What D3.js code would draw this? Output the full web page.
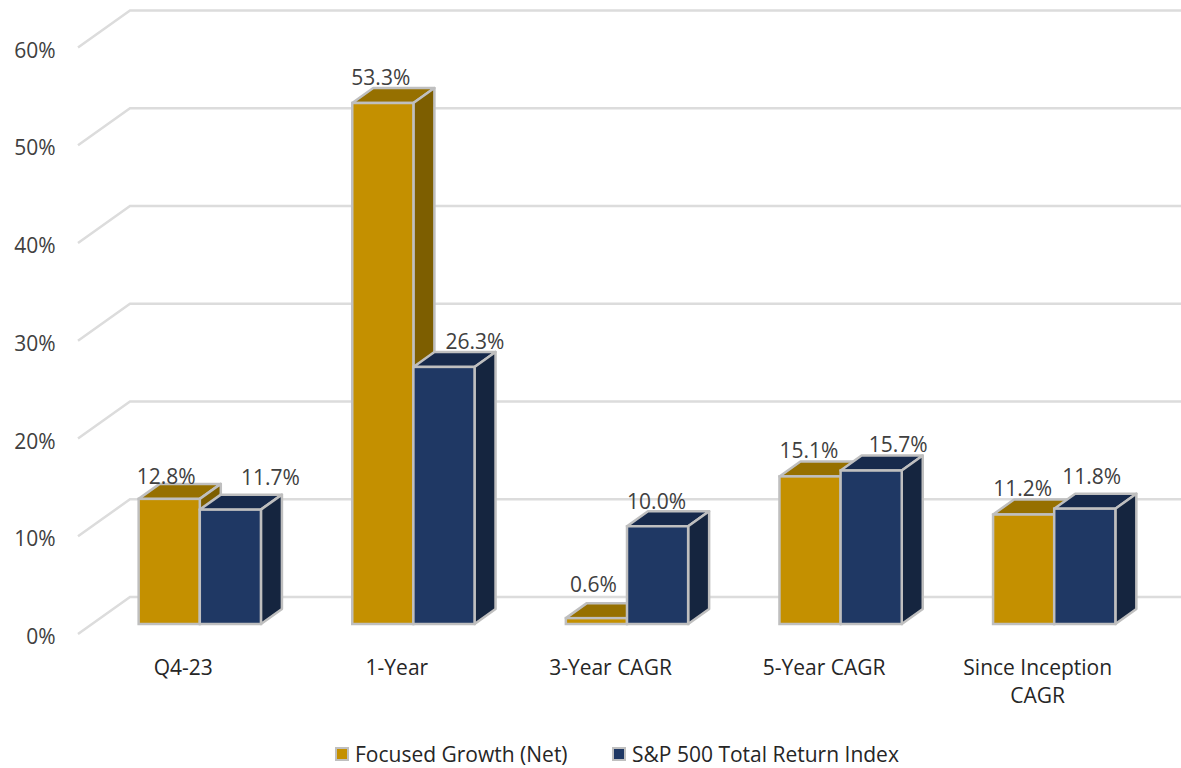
<!DOCTYPE html>
<html>
<head>
<meta charset="utf-8">
<script src="https://cdn.jsdelivr.net/npm/d3@7/dist/d3.min.js"></script>
<style>
  html, body { margin: 0; padding: 0; background: #fff; overflow: hidden; }
  text { font-family: "Open Sans", sans-serif; }
</style>
</head>
<body>
<div id="chart"></div>
<script>
const categories = ['Q4-23', '1-Year', '3-Year CAGR', '5-Year CAGR', 'Since Inception CAGR'];
const seriesNames = ['Focused Growth (Net)', 'S&P 500 Total Return Index'];
const focusedGrowth = [12.8, 53.3, 0.6, 15.1, 11.2];
const sp500 = [11.7, 26.3, 10.0, 15.7, 11.8];
const yTicks = [0, 10, 20, 30, 40, 50, 60];

const colors = [
  { front: '#c49000', top: '#967000', side: '#7d5e00' },
  { front: '#1f3864', top: '#172a4c', side: '#15253f' },
];

// hand placed label offsets, the original moved some of them off the bars
const labelNudge = [
  [[0, 2], [1, -1], [0, 0], [2, -1], [2, -2]],
  [[30, -8], [21, -1], [-11, 0], [17, -2], [-3, -8]],
];

const width = 1181;
const height = 768;
const fontSize = 21;

const svg = d3.select('#chart').append('svg')
  .attr('width', width)
  .attr('height', height);

// front plane scales, the back wall is the same scale pushed up and right
const y = d3.scaleLinear().domain([0, 60]).range([624, 37.5]);
const x0 = d3.scaleBand().domain(categories).range([93, 1161]).paddingInner(0.4275).paddingOuter(0.2137);
const x1 = d3.scaleBand().domain([0, 1]).range([0, x0.bandwidth()]);

const wall = { dx: 52, dy: -37, left: 78, right: 1181 };
const depth = { dx: 21, dy: -15 };

const grid = svg.append('g')
  .attr('fill', 'none')
  .attr('stroke', '#dcdcdc')
  .attr('stroke-width', 2.5);

yTicks.forEach((t) => {
  const py = y(t) + 10;
  grid.append('path')
    .attr('d', `M${wall.left},${py}L${wall.left + wall.dx},${py + wall.dy}L${wall.right},${py + wall.dy}`);
});

svg.append('g').selectAll('text')
  .data(yTicks)
  .enter()
  .append('text')
  .attr('x', 55.5)
  .attr('y', d => y(d) + 20)
  .attr('text-anchor', 'end')
  .attr('font-size', fontSize)
  .attr('fill', '#404040')
  .text(d => `${d}%`);

function drawBar(g, bx, value, c) {
  const w = x1.bandwidth();
  const top = y(value);
  const base = y(0);
  const stroke = '#bfbfbf';
  g.append('path')
    .attr('d', `M${bx},${top}l${depth.dx},${depth.dy}h${w}l${-depth.dx},${-depth.dy}Z`)
    .attr('fill', c.top).attr('stroke', stroke).attr('stroke-width', 2.5).attr('stroke-linejoin', 'round');
  g.append('path')
    .attr('d', `M${bx + w},${top}l${depth.dx},${depth.dy}V${base + depth.dy}l${-depth.dx},${-depth.dy}Z`)
    .attr('fill', c.side).attr('stroke', stroke).attr('stroke-width', 2.5).attr('stroke-linejoin', 'round');
  g.append('rect')
    .attr('x', bx).attr('y', top).attr('width', w).attr('height', base - top)
    .attr('fill', c.front).attr('stroke', stroke).attr('stroke-width', 2.5);
}

const series = [focusedGrowth, sp500];
const bars = svg.append('g');
categories.forEach((cat, i) => {
  const g = bars.append('g');
  series.forEach((values, s) => {
    drawBar(g, x0(cat) + x1(s), values[i], colors[s]);
  });
});

// labels sit above the top face of each bar
const labels = svg.append('g');
categories.forEach((cat, i) => {
  series.forEach((values, s) => {
    const nudge = labelNudge[s][i];
    labels.append('text')
      .attr('x', x0(cat) + x1(s) + x1.bandwidth() / 2 + (s === 0 ? -3 : 10) + nudge[0])
      .attr('y', y(values[i]) - (values[i] < 5 ? 26 : 17) + nudge[1])
      .attr('text-anchor', 'middle')
      .attr('font-size', fontSize)
      .attr('fill', '#404040')
      .text(`${values[i].toFixed(1)}%`);
  });
});

const catLabels = svg.append('g');
categories.forEach((cat) => {
  const cx = x0(cat) + x0.bandwidth() / 2 - 16.5;
  const lines = cat === 'Since Inception CAGR' ? ['Since Inception', 'CAGR'] : [cat];
  lines.forEach((line, i) => {
    catLabels.append('text')
      .attr('x', cx)
      .attr('y', 675 + i * 28)
      .attr('text-anchor', 'middle')
      .attr('font-size', fontSize)
      .attr('fill', '#262626')
      .text(line);
  });
});

const legendX = [335, 612];
const legend = svg.append('g');
seriesNames.forEach((name, i) => {
  legend.append('rect')
    .attr('x', legendX[i] + 1).attr('y', 748).attr('width', 12).attr('height', 12)
    .attr('fill', colors[i].front).attr('stroke', '#bfbfbf').attr('stroke-width', 2);
  legend.append('text')
    .attr('x', legendX[i] + 20)
    .attr('y', 762)
    .attr('font-size', fontSize)
    .attr('fill', '#262626')
    .text(name);
});
</script>
</body>
</html>
